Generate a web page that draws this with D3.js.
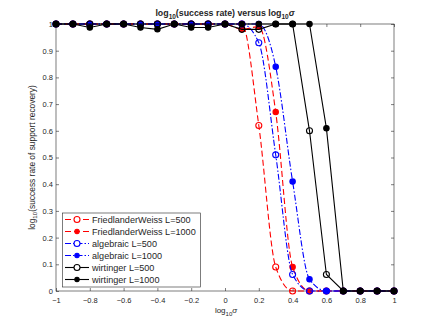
<!DOCTYPE html>
<meta charset="utf-8">
<style>
body{margin:0;background:#fff;}
svg text{font-family:"Liberation Sans",Arial,sans-serif;fill:#262626;}
</style>
<svg id="chart" width="436" height="327"></svg>
<script src="https://cdn.jsdelivr.net/npm/d3@7"></script>
<script>
// log10 sigma values (x)
const sigmaLog = [-1,-0.9,-0.8,-0.7,-0.6,-0.5,-0.4,-0.3,-0.2,-0.1,0,0.1,0.2,0.3,0.4,0.5,0.6,0.7,0.8,0.9,1]
const xTicks = [-1,-0.8,-0.6,-0.4,-0.2,0,0.2,0.4,0.6,0.8,1]
const yTicks = [0,0.1,0.2,0.3,0.4,0.5,0.6,0.7,0.8,0.9,1]

// success rates
const fw500   = [1,1,1,1,1,1,1,1,1,1,1,1,0.62,0.09,0,0,0,0,0,0,0]
const fw1000  = [1,1,1,1,1,1,1,1,1,1,1,0.98,0.99,0.67,0.09,0,0,0,0,0,0]
const alg500  = [1,1,1,1,1,1,1,1,1,1,1,1,0.93,0.51,0.062,0,0,0,0,0,0]
const alg1000 = [1,1,1,1,1,1,1,1,1,1,1,1,1,0.84,0.41,0.044,0,0,0,0,0]
const wirt500 = [1,1,1,1,1,1,1,1,1,1,1,0.98,0.98,1,1,0.6,0.062,0,0,0,0]
const wirt1000= [1,1,0.987,1,1,0.987,0.98,1,0.987,0.987,1,1,1,1,1,1,0.61,0,0,0,0]

const seriesNames = ['FriedlanderWeiss L=500','FriedlanderWeiss L=1000','algebraic L=500','algebraic L=1000','wirtinger L=500','wirtinger L=1000']

const series = [
  {name: seriesNames[0], vals: fw500,   color:'#ff0000', dash:'6,3',       open:true,  smooth:true},
  {name: seriesNames[1], vals: fw1000,  color:'#ff0000', dash:'6,3',       open:false, smooth:true},
  {name: seriesNames[2], vals: alg500,  color:'#0000ff', dash:'6,2,1.5,2', open:true,  smooth:true},
  {name: seriesNames[3], vals: alg1000, color:'#0000ff', dash:'6,2,1.5,2', open:false, smooth:true},
  {name: seriesNames[4], vals: wirt500, color:'#000000', dash:null,        open:true,  smooth:false},
  {name: seriesNames[5], vals: wirt1000,color:'#000000', dash:null,        open:false, smooth:false}
]

const svg = d3.select('#chart')
const L = 56, R = 394, T = 24, B = 291

const x = d3.scaleLinear().domain([-1,1]).range([L,R])
const y = d3.scaleLinear().domain([0,1]).range([B,T])

// box
svg.append('rect').attr('x',L).attr('y',T).attr('width',R-L).attr('height',B-T)
  .attr('fill','#fff').attr('stroke','#262626').attr('stroke-width',0.6)

// axes with inward ticks
svg.append('g').attr('transform',`translate(0,${B})`)
  .call(d3.axisBottom(x).tickValues(xTicks).tickSizeInner(-3).tickSizeOuter(0).tickPadding(7).tickFormat(d3.format('')))
svg.append('g').attr('transform',`translate(0,${T})`)
  .call(d3.axisTop(x).tickValues(xTicks).tickSizeInner(-3).tickSizeOuter(0).tickFormat(''))
svg.append('g').attr('transform',`translate(${L},0)`)
  .call(d3.axisLeft(y).tickValues(yTicks).tickSizeInner(-3).tickSizeOuter(0).tickPadding(3).tickFormat(d3.format('')))
svg.append('g').attr('transform',`translate(${R},0)`)
  .call(d3.axisRight(y).tickValues(yTicks).tickSizeInner(-3).tickSizeOuter(0).tickFormat(''))
svg.selectAll('.domain').remove()
svg.selectAll('.tick line').attr('stroke','#262626').attr('stroke-width',0.6)
svg.selectAll('.tick text').style('font-size','7.5px').attr('fill','#262626')

// lines
series.forEach(s => {
  const pts = s.vals.map((v,i) => [sigmaLog[i], v])
  const line = d3.line().x(d => x(d[0])).y(d => y(d[1]))
    .curve(s.smooth ? d3.curveMonotoneX : d3.curveLinear)
  svg.append('path').datum(pts).attr('d', line)
    .attr('fill','none').attr('stroke',s.color).attr('stroke-width',1.1)
    .attr('stroke-dasharray', s.dash)
  svg.append('g').selectAll('circle').data(pts).join('circle')
    .attr('cx', d => x(d[0])).attr('cy', d => y(d[1]))
    .attr('r', s.open ? 3 : 2.7)
    .attr('fill', s.open ? 'none' : s.color)
    .attr('stroke', s.color).attr('stroke-width', 1.1)
})

// title
const title = svg.append('text').attr('x',225).attr('y',16).attr('text-anchor','middle')
  .style('font-size','8.8px').style('font-weight','bold').attr('fill','#000')
title.append('tspan').text('log')
title.append('tspan').attr('dy',2.5).style('font-size','6.5px').text('10')
title.append('tspan').attr('dy',-2.5).text('(success rate) versus log')
title.append('tspan').attr('dy',2.5).style('font-size','6.5px').text('10')
title.append('tspan').attr('dy',-2.5).style('font-style','italic').text('σ')

// x label
const xl = svg.append('text').attr('x',226).attr('y',313).attr('text-anchor','middle').style('font-size','8px')
xl.append('tspan').text('log')
xl.append('tspan').attr('dy',2.5).style('font-size','6px').text('10')
xl.append('tspan').attr('dy',-2.5).style('font-style','italic').text('σ')

// y label
const yl = svg.append('text').attr('transform',`translate(35,${(T+B)/2}) rotate(-90)`)
  .attr('text-anchor','middle').style('font-size','8.4px')
yl.append('tspan').text('log')
yl.append('tspan').attr('dy',2.3).style('font-size','6.2px').text('10')
yl.append('tspan').attr('dy',-2.3).text('(success rate of support recovery)')

// legend
const lg = svg.append('g')
lg.append('rect').attr('x',62.5).attr('y',213).attr('width',138).attr('height',74)
  .attr('fill','#fff').attr('stroke','#262626').attr('stroke-width',0.6)
series.forEach((s,i) => {
  const ry = 219.5 + i*12
  lg.append('line').attr('x1',65).attr('x2',89).attr('y1',ry).attr('y2',ry)
    .attr('stroke',s.color).attr('stroke-width',1.1).attr('stroke-dasharray',s.dash)
  lg.append('circle').attr('cx',77).attr('cy',ry).attr('r',s.open ? 3 : 2.2)
    .attr('fill', s.open ? '#fff' : s.color).attr('stroke',s.color).attr('stroke-width',1.1)
  lg.append('text').attr('x',92).attr('y',ry+3.2).style('font-size','9.1px').attr('fill','#000').text(s.name)
})
</script>
